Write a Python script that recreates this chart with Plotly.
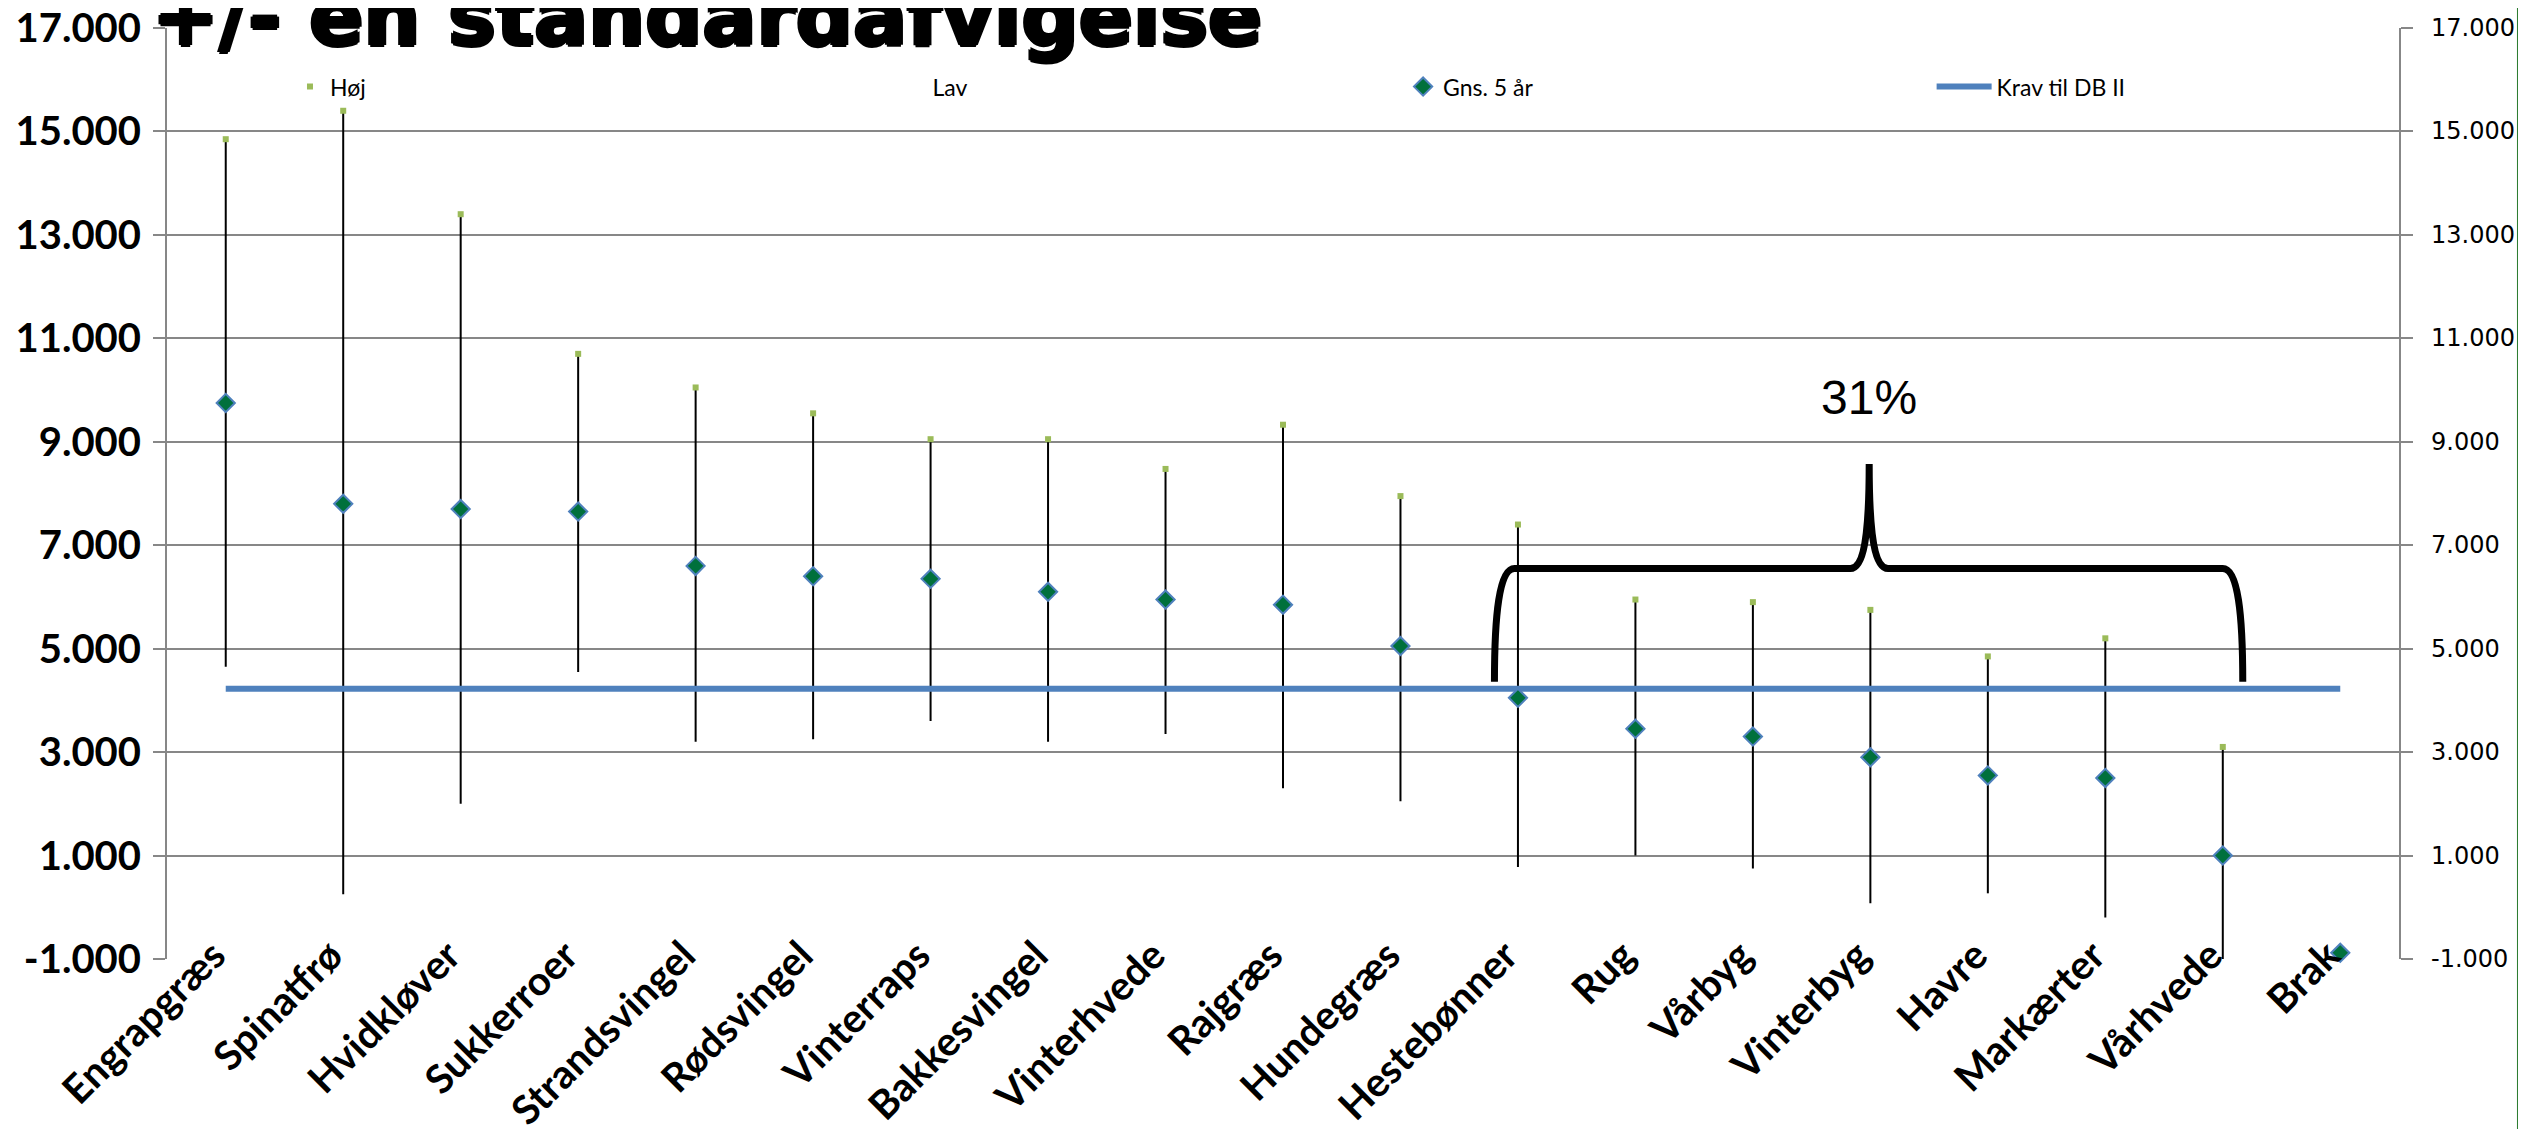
import plotly.graph_objects as go

# ---------------- data ----------------
categories = ["Engrapgræs", "Spinatfrø", "Hvidkløver", "Sukkerroer", "Strandsvingel",
              "Rødsvingel", "Vinterraps", "Bakkesvingel", "Vinterhvede", "Rajgræs",
              "Hundegræs", "Hestebønner", "Rug", "Vårbyg", "Vinterbyg", "Havre",
              "Markærter", "Vårhvede", "Brak"]
hoj = [14850, 15400, 13400, 10700, 10050, 9550, 9050, 9050, 8475, 9330,
       7950, 7400, 5950, 5900, 5750, 4850, 5200, 3100, None]
lav = [4650, 250, 2000, 4550, 3200, 3250, 3600, 3200, 3350, 2300,
       2050, 780, 1000, 750, 80, 270, -200, -1050, None]
gns = [9750, 7800, 7700, 7650, 6600, 6400, 6350, 6100, 5950, 5850,
       5050, 4050, 3450, 3300, 2900, 2550, 2500, 1000, -880]
krav = [4225] * len(categories)

y_tickvals = [-1000, 1000, 3000, 5000, 7000, 9000, 11000, 13000, 15000, 17000]
y_ticktext = ["-1.000", "1.000", "3.000", "5.000", "7.000", "9.000",
              "11.000", "13.000", "15.000", "17.000"]
title_text = "+/- en standardafvigelse"
brace_label = "31%"
brace_from, brace_to, brace_mid = 10.80, 17.17, 13.99
brace_base, brace_bar, brace_peak = 4360, 6550, 8570
label_y = 9850

GRID = "#878787"

# ---------------- high-low lines ----------------
hl_x, hl_y = [], []
for c, h, l in zip(categories, hoj, lav):
    if h is None or l is None:
        continue
    hl_x += [c, c, None]
    hl_y += [l, h, None]

fig = go.Figure()
fig.add_trace(go.Scatter(x=hl_x, y=hl_y, mode="lines",
                         line=dict(color="black", width=2),
                         showlegend=False, hoverinfo="skip"))
fig.add_trace(go.Scatter(x=categories, y=krav, mode="lines", name="Krav til DB II",
                         line=dict(color="#4F81BD", width=6), legend="legend4"))
fig.add_trace(go.Scatter(x=categories, y=hoj, mode="markers", name="Høj",
                         marker=dict(symbol="square", size=6, color="#9BBB59"),
                         legend="legend"))
fig.add_trace(go.Scatter(x=categories, y=lav, mode="markers", name="Lav",
                         marker=dict(symbol="square", size=5, color="rgba(0,0,0,0)"),
                         legend="legend2"))
fig.add_trace(go.Scatter(x=categories, y=gns, mode="markers", name="Gns. 5 år",
                         marker=dict(symbol="diamond", size=14, color="#00703C",
                                     line=dict(color="#4F81BD", width=2)),
                         legend="legend3", cliponaxis=False))

# ---------------- brace ----------------
L, R, M = brace_from, brace_to, brace_mid
b, h, p = brace_base, brace_bar, brace_peak
path = (f"M {L},{b} C {L},{h-900} {L+0.04},{h} {L+0.17},{h} "
        f"L {M-0.16},{h} C {M-0.05},{h} {M},{h+600} {M},{p} "
        f"C {M},{h+600} {M+0.05},{h} {M+0.16},{h} "
        f"L {R-0.17},{h} C {R-0.04},{h} {R},{h-900} {R},{b}")
fig.add_shape(type="path", path=path, xref="x", yref="y",
              line=dict(color="black", width=7))

fig.add_annotation(x=M, y=label_y, xref="x", yref="y", text=brace_label,
                   showarrow=False, font=dict(family="Liberation Sans", size=48, color="black"))

fig.add_annotation(x=-0.0076, y=0.959, xref="paper", yref="paper", text=title_text,
                   xanchor="left", yanchor="bottom", showarrow=False,
                   font=dict(family="DejaVu Sans", size=80, color="black", weight="bold",
                             shadow="2px 0 0 #000, -2px 0 0 #000, 0 2px 0 #000, 0 -2px 0 #000"))

# right-hand value labels (mirror of the left axis)
for v, t in zip(y_tickvals, y_ticktext):
    fig.add_annotation(x=1, y=v, xref="paper", yref="y", text=t, xanchor="left",
                       yanchor="middle", xshift=30, showarrow=False,
                       font=dict(family="DejaVu Sans", size=24, color="black"))

# right green border line
fig.add_shape(type="line", xref="paper", yref="paper", x0=1.0542, x1=1.0542, y0=-0.3, y1=1.1,
              line=dict(color="#2E7D32", width=6), layer="above")

n = len(categories)
leg_common = dict(orientation="h", y=0.937, yanchor="middle", xanchor="left",
                  bgcolor="rgba(0,0,0,0)", font=dict(family="Lato", size=23, color="black"))

fig.update_layout(
    width=2518, height=1121,
    margin=dict(l=159, r=127, t=20, b=170),
    paper_bgcolor="white", plot_bgcolor="white",
    font=dict(family="Lato", color="black"),
    legend=dict(x=0.0551, **leg_common),
    legend2=dict(x=0.3250, **leg_common),
    legend3=dict(x=0.5538, **leg_common),
    legend4=dict(x=0.7906, itemwidth=55, **leg_common),
    xaxis=dict(type="category", categoryorder="array", categoryarray=categories,
               range=[-0.5, n - 0.5], tickangle=-45, showgrid=False, showline=False,
               ticks="", zeroline=False, automargin=False,
               ticklabelstandoff=-36, ticklabelshift=-12, ticklabeloverflow="allow",
               tickfont=dict(family="Lato", size=40, color="black", weight="bold")),
    xaxis2=dict(overlaying="x", anchor="free", position=1000 / 18000, type="linear",
                range=[-0.5, n - 0.5], tickvals=[k - 0.5 for k in range(n + 1)],
                ticks="outside", ticklen=13, tickwidth=2, tickcolor=GRID,
                showline=True, linecolor=GRID, linewidth=2, showticklabels=False,
                showgrid=False, zeroline=False, automargin=False),
    yaxis=dict(range=[-1000, 17000], tickvals=y_tickvals, ticktext=y_ticktext,
               showgrid=True, gridcolor=GRID, gridwidth=2, showline=True, mirror="ticks",
               linecolor=GRID, linewidth=2, ticks="outside", ticklen=12, tickwidth=2,
               tickcolor=GRID, zeroline=False, ticklabelstandoff=4, automargin=False,
               ticklabeloverflow="allow",
               tickfont=dict(family="Lato", size=40, color="black", weight="bold")),
)

fig.write_html("out.html")
